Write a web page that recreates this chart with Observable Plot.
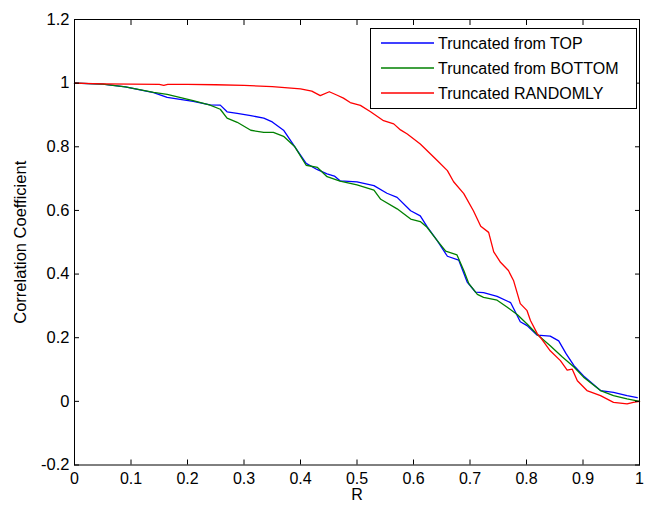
<!DOCTYPE html>
<html><head><meta charset="utf-8">
<script src="https://cdn.jsdelivr.net/npm/d3@7"></script>
<script src="https://cdn.jsdelivr.net/npm/@observablehq/plot@0.6"></script>
<style>
html,body{margin:0;padding:0;background:#fff;overflow:hidden;}
#wrap{position:relative;width:646px;height:505px;overflow:hidden;}
.legend{position:absolute;left:370px;top:28px;width:267px;height:81px;border:1px solid #000;background:#fff;box-sizing:border-box;font-family:"Liberation Sans",Arial,sans-serif;font-size:16px;color:#000;}
.legend .row{position:absolute;left:0;height:20px;width:100%;}
.legend svg{position:absolute;left:10px;top:4px;}
.legend .lbl{position:absolute;left:67px;top:1px;line-height:18px;white-space:nowrap;}
</style>
</head><body>
<div id="wrap"></div>
<script>
// ---- data ----
const seriesNames = ["Truncated from TOP", "Truncated from BOTTOM", "Truncated RANDOMLY"];
const seriesColors = ["#0000ff", "#008000", "#ff0000"];

const topX = [0,0.05,0.09,0.14,0.164,0.21,0.24,0.258,0.27,0.288,0.312,0.335,0.35,0.37,0.39,0.41,0.43,0.447,0.46,0.47,0.5,0.53,0.553,0.571,0.595,0.612,0.624,0.642,0.66,0.68,0.695,0.71,0.724,0.748,0.772,0.789,0.801,0.819,0.842,0.857,0.87,0.884,0.901,0.931,0.954,0.978,0.996];
const topY = [1.0,0.997,0.988,0.97,0.955,0.943,0.932,0.931,0.91,0.905,0.898,0.89,0.878,0.852,0.8,0.748,0.728,0.715,0.708,0.693,0.69,0.678,0.654,0.641,0.599,0.583,0.549,0.505,0.456,0.444,0.375,0.343,0.342,0.33,0.31,0.25,0.238,0.208,0.205,0.19,0.15,0.112,0.08,0.034,0.028,0.018,0.012];

const bottomX = [0,0.05,0.09,0.14,0.164,0.21,0.24,0.258,0.27,0.288,0.312,0.335,0.352,0.37,0.39,0.41,0.43,0.447,0.47,0.5,0.53,0.542,0.571,0.595,0.612,0.624,0.642,0.657,0.677,0.689,0.698,0.713,0.724,0.748,0.766,0.784,0.801,0.819,0.842,0.863,0.884,0.901,0.931,0.954,0.978,1.0];
const bottomY = [1.0,0.997,0.988,0.971,0.965,0.945,0.931,0.918,0.89,0.877,0.852,0.845,0.845,0.833,0.8,0.742,0.735,0.706,0.692,0.68,0.664,0.635,0.605,0.573,0.565,0.547,0.505,0.472,0.46,0.411,0.37,0.336,0.327,0.318,0.296,0.272,0.243,0.21,0.175,0.14,0.108,0.076,0.034,0.018,0.008,0.0];

const randomX = [0,0.05,0.1,0.15,0.158,0.165,0.2,0.25,0.3,0.35,0.4,0.42,0.435,0.451,0.465,0.476,0.488,0.506,0.524,0.547,0.565,0.577,0.589,0.612,0.642,0.66,0.671,0.689,0.706,0.719,0.733,0.742,0.754,0.768,0.777,0.789,0.801,0.807,0.819,0.825,0.842,0.86,0.872,0.881,0.89,0.907,0.931,0.954,0.978,0.989,1.0];
const randomY = [1.0,0.998,0.997,0.996,0.993,0.996,0.996,0.995,0.993,0.989,0.982,0.975,0.961,0.973,0.962,0.953,0.939,0.93,0.91,0.882,0.872,0.853,0.84,0.809,0.757,0.725,0.69,0.653,0.599,0.55,0.531,0.47,0.437,0.411,0.38,0.307,0.285,0.254,0.213,0.2,0.159,0.128,0.098,0.101,0.065,0.034,0.018,-0.003,-0.008,-0.003,0.0];

const xTicks = [0,0.1,0.2,0.3,0.4,0.5,0.6,0.7,0.8,0.9,1];
const xTickLabels = ["0","0.1","0.2","0.3","0.4","0.5","0.6","0.7","0.8","0.9","1"];
const yTicks = [-0.2,0,0.2,0.4,0.6,0.8,1,1.2];
const yTickLabels = ["-0.2","0","0.2","0.4","0.6","0.8","1","1.2"];
const xLabel = "R";
const yLabel = "Correlation Coefficient";

// ---- build ----
const mk = (xs, ys) => xs.map((x, i) => ({x, y: ys[i]}));
const series = [mk(topX, topY), mk(bottomX, bottomY), mk(randomX, randomY)];
const xFmt = new Map(xTicks.map((t, i) => [t, xTickLabels[i]]));
const yFmt = new Map(yTicks.map((t, i) => [t, yTickLabels[i]]));

const chart = Plot.plot({
  width: 646, height: 505,
  marginLeft: 74, marginRight: 7, marginTop: 19, marginBottom: 40.5,
  style: {fontFamily: "'Liberation Sans', Arial, sans-serif", fontSize: "16px", color: "black", background: "white"},
  x: {domain: [0, 1]},
  y: {domain: [-0.2, 1.2]},
  marks: [
    ...series.map((d, i) => Plot.line(d, {x: "x", y: "y", stroke: seriesColors[i], strokeWidth: 1.3})),
    Plot.frame({stroke: "black", strokeWidth: 1}),
    Plot.axisX({anchor: "bottom", ticks: xTicks, tickFormat: d => xFmt.get(d), tickSize: -5, tickPadding: 13, label: xLabel, labelAnchor: "center", labelOffset: 35, labelArrow: "none"}),
    Plot.axisX({anchor: "top", ticks: xTicks, tickFormat: () => "", tickSize: -5, label: null}),
    Plot.axisY({anchor: "left", ticks: yTicks, tickFormat: d => yFmt.get(d), tickSize: -5, tickPadding: 10, label: yLabel, labelAnchor: "center", labelOffset: 60, labelArrow: "none", fontSize: 16.5}),
    Plot.axisY({anchor: "right", ticks: yTicks, tickFormat: () => "", tickSize: -5, label: null})
  ]
});
const wrap = document.getElementById("wrap");
wrap.appendChild(chart);

// legend
const NS = "http://www.w3.org/2000/svg";
const leg = document.createElement("div");
leg.className = "legend";
seriesNames.forEach((name, i) => {
  const row = document.createElement("div");
  row.className = "row";
  row.style.top = (5 + i * 25) + "px";
  const svg = document.createElementNS(NS, "svg");
  svg.setAttribute("width", "54"); svg.setAttribute("height", "10");
  const ln = document.createElementNS(NS, "line");
  ln.setAttribute("x1", "0"); ln.setAttribute("x2", "53");
  ln.setAttribute("y1", "5"); ln.setAttribute("y2", "5");
  ln.setAttribute("stroke", seriesColors[i]); ln.setAttribute("stroke-width", "1.4");
  svg.appendChild(ln);
  const lbl = document.createElement("div");
  lbl.className = "lbl";
  lbl.textContent = name;
  row.appendChild(svg); row.appendChild(lbl);
  leg.appendChild(row);
});
wrap.appendChild(leg);
</script>
</body></html>
